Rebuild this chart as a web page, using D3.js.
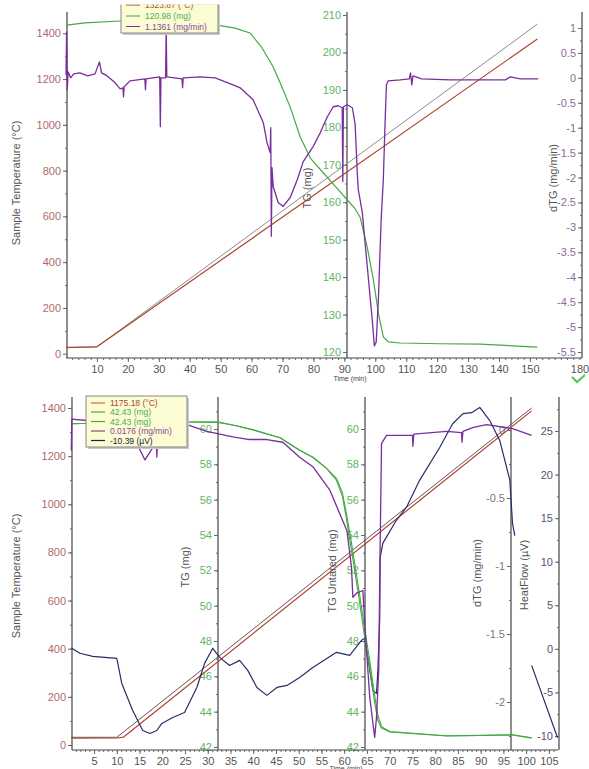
<!DOCTYPE html>
<meta charset="utf-8">
<script src="https://cdn.jsdelivr.net/npm/d3@7"></script>
<style>
  body { margin: 0; background: #fff; }
  text { font-family: "Liberation Sans", Arial, sans-serif; }
</style>
<div id="chart"></div>
<script>

// ---------- top panel data (time in min) ----------
var topTimeTicks = [10, 20, 30, 40, 50, 60, 70, 80, 90, 100, 110, 120, 130, 140, 150];
var topTempTicks = [0, 200, 400, 600, 800, 1000, 1200, 1400];
var topTGTicks = [120, 130, 140, 150, 160, 170, 180, 190, 200, 210];
var topDTGTicks = [1, 0.5, 0, -0.5, -1, -1.5, -2, -2.5, -3, -3.5, -4, -4.5, -5, -5.5];

var topTempRed = [[0, 28], [10, 30], [152.4, 1375]];
var topTempGray = [[0, 26], [10, 30], [152.4, 1440]];

var topTG = [[0.3, 207.3], [6.1, 207.9], [17.5, 208.4], [33.7, 208.4], [48.9, 207.3], [54.7, 206.5],
  [59.5, 205.2], [63.4, 201.2], [67, 196.1], [69.3, 191.8], [72.5, 185.4], [75.7, 177.5], [79, 171.8],
  [82.8, 168.2], [87, 164.3], [91, 160.6], [93.5, 158.2], [95.1, 156], [97.4, 148], [99.4, 139.2],
  [101, 130.4], [102.6, 124], [104.2, 122.7], [108.1, 122.4], [121, 122.2], [134, 122.1], [152.4, 121.3]];

var topDTG = [[0, 0.06], [0.2, 0.92], [0.4, -0.24], [0.7, 0.12], [1.5, 0.0], [2.5, 0.08], [4.5, 0.1],
  [7, 0.04], [9.4, 0.08], [10.8, 0.32], [11.5, 0.1], [13, 0.05], [15.9, -0.1], [17.5, -0.22],
  [18.4, -0.2], [18.6, -0.38], [18.8, -0.18], [20.7, -0.06], [25.5, -0.02], [25.7, -0.24], [25.9, -0.02],
  [30.3, 0.02], [30.5, -0.98], [30.7, 0.0], [32.2, 0.0], [32.4, 1.0], [32.6, 0.02], [37.5, -0.02],
  [37.7, -0.2], [37.9, 0], [43.4, 0.02], [48.2, 0.0], [54, -0.14], [56.3, -0.2], [60.5, -0.44],
  [63.8, -0.9], [65, -1.3], [66, -1.5], [66.2, -1.0], [66.4, -3.18], [66.6, -1.8], [67, -2.18],
  [68.6, -2.5], [70.2, -2.58], [72.5, -2.4], [74.8, -2.04], [76.7, -1.68], [79.9, -1.38], [82.2, -1.1],
  [84.5, -0.78], [86.4, -0.58], [88, -0.56], [89.3, -0.6], [89.5, -2.08], [89.7, -0.58], [90.9, -0.54],
  [92.6, -0.6], [93.5, -0.94], [94.2, -1.94], [94.5, -2.24], [95.8, -2.7], [97.4, -3.78], [99, -4.84],
  [99.7, -5.38], [100.3, -5.3], [101, -4.44], [101.9, -2.84], [102.6, -2.04], [103.2, -0.84],
  [103.6, -0.14], [104.2, -0.06], [108.1, -0.04], [111, -0.02], [111.4, 0.1], [111.8, -0.14],
  [112.2, 0.04], [115, -0.02], [124.3, -0.04], [134, -0.04], [142.1, -0.04], [143.7, 0.02],
  [146.9, -0.02], [152.7, -0.02]];

var topLegend = ["1323.87  (°C)", "120.98  (mg)", "1.1361  (mg/min)"];

// ---------- bottom panel data ----------
var botTimeTicks = [5, 10, 15, 20, 25, 30, 35, 40, 45, 50, 55, 60, 65, 70, 75, 80, 85, 90, 95, 100, 105];
var botTempTicks = [0, 200, 400, 600, 800, 1000, 1200, 1400];
var botTGTicks = [42, 44, 46, 48, 50, 52, 54, 56, 58, 60];
var botDTGTicks = [0, -0.5, -1, -1.5, -2];
var botHFTicks = [-10, -5, 0, 5, 10, 15, 20, 25];

var botTempRed = [[0, 28], [10, 29], [11.5, 33], [101.2, 1388]];
var botTempDark = [[0, 32], [10, 32], [101.2, 1400]];

var botTG = [[0, 60.3], [15, 60.38], [25, 60.4], [32.2, 60.39], [36, 60.2], [40, 59.95], [45.9, 59.5],
  [50.2, 58.8], [53.1, 58.4], [56, 57.8], [58.3, 57.1], [59.6, 56.2], [60.5, 54.9], [61.5, 53.3],
  [62.3, 52.0], [63.4, 50.15], [64.5, 48.2], [65.6, 46.5], [66.7, 44.5], [67.4, 43.5], [68.2, 43.08],
  [70, 42.85], [82.5, 42.62], [90, 42.65], [97, 42.68], [101.2, 42.5]];
var botTGUntared = [[0, 60.3], [15, 60.38], [25, 60.4], [32.2, 60.39], [36, 60.2], [40, 59.95], [45.9, 59.5],
  [50.2, 58.8], [53.1, 58.4], [56, 57.8], [58.3, 57.2], [59.6, 56.4], [60.5, 55.2], [61.5, 53.7],
  [62.3, 52.4], [63.4, 50.6], [64.5, 48.7], [65.6, 46.9], [66.7, 44.9], [67.4, 43.8], [68.2, 43.15],
  [70, 42.88], [82.5, 42.64], [90, 42.66], [97, 42.69], [101.2, 42.52]];

var botDTG = [[0, -0.15], [0.1, 0.08], [3.4, 0.07], [6.3, 0.06], [10, 0.04], [12.9, -0.01], [14.4, -0.1],
  [16.2, -0.22], [17.9, -0.13], [18.7, -0.08], [18.8, -0.2], [19, -0.04], [21, 0.0], [25.4, 0.04],
  [29.8, -0.01], [35.5, -0.05], [39.2, -0.07], [43, -0.07], [46.5, -0.09], [50.2, -0.2], [53.1, -0.27],
  [56.8, -0.44], [60.6, -0.74], [61.6, -1.01], [61.9, -1.23], [62.7, -1.2], [64.1, -1.18], [64.7, -1.52],
  [65.6, -1.96], [66.7, -2.26], [67.1, -2.11], [67.6, -1.76], [67.8, -1.1], [68.2, -0.1], [69.3, -0.04],
  [75, -0.04], [75.1, -0.12], [75.3, -0.03], [82.5, -0.01], [85.8, -0.02], [85.9, -0.09], [86.1, -0.01],
  [88.4, 0.02], [91.3, 0.04], [97, 0.01], [101.2, -0.04]];

var botHeatFlow = [[0, 0.1], [1.9, -0.5], [4.7, -0.86], [10, -1.09], [11.1, -3.97], [13.5, -7.07],
  [15.7, -9.37], [17.3, -9.71], [18.8, -9.37], [19.9, -8.56], [22.3, -7.87], [24.9, -7.3], [27.6, -4.43],
  [29.3, -1.67], [31.1, 0.06], [32.6, -0.98], [34.8, -1.9], [37, -1.32], [38.8, -2.47], [40.8, -4.43],
  [43, -5.34], [45.2, -4.43], [47.4, -4.2], [50.2, -3.28], [53.1, -2.13], [58.3, -0.4], [61.2, -0.75],
  [63.8, 0.98], [64.5, 1.21], [65.2, -0.98], [66.3, -4.77], [67.1, -5.11], [67.4, -2.47], [67.8, 3.28],
  [67.9, 10.5], [68.5, 12.13], [71.5, 14.78], [73.7, 16.26], [76.6, 19.37], [81, 23.1], [83.8, 25.8],
  [86.1, 27], [88, 27.1], [89.8, 27.7], [92, 26.2], [94.2, 23.9], [96.4, 19.4], [97, 14.4], [97.5, 13],
  [99, null], [101.2, -1.9], [106.9, -10.2]];

var botLegend = ["1175.18  (°C)", "42.43  (mg)", "42.43  (mg)", "0.0176  (mg/min)", "-10.39  (µV)"];

// ---------- colours ----------
var cTempTxt = "#b06a6a", cGreenTxt = "#5fb65f", cPurpleTxt = "#8c6b94", cHFTxt = "#55556e";
var cRed = "#b0432f", cGray = "#8c8c8c", cGreen = "#45a845", cPurple = "#7a2d9c", cNavy = "#2b2b6b";

var svg = d3.select("#chart").append("svg")
  .attr("width", 589).attr("height", 769);

function vAxis(x, y1, y2, scale, major, minor, color) {
  svg.append("line").attr("x1", x).attr("x2", x).attr("y1", y1).attr("y2", y2)
    .attr("stroke", "#444").attr("stroke-width", 1.2);
  var gm = svg.append("g").attr("transform", "translate(" + x + ",0)")
    .call(d3.axisLeft(scale).tickValues(minor).tickSize(2).tickFormat(""));
  var g = svg.append("g").attr("transform", "translate(" + x + ",0)")
    .call(d3.axisLeft(scale).tickValues(major).tickSize(4).tickPadding(2).tickFormat(String));
  [gm, g].forEach(function(a) {
    a.select(".domain").remove();
    a.selectAll("line").attr("stroke", "#666");
  });
  g.attr("font-family", null).attr("font-size", null);
  g.selectAll("text").attr("fill", color).style("font-size", "11px");
}

function hAxis(y, x1, x2, scale, major, minor) {
  svg.append("line").attr("x1", x1).attr("x2", x2).attr("y1", y).attr("y2", y)
    .attr("stroke", "#444").attr("stroke-width", 1.2);
  var gm = svg.append("g").attr("transform", "translate(0," + y + ")")
    .call(d3.axisBottom(scale).tickValues(minor).tickSize(2).tickFormat(""));
  var g = svg.append("g").attr("transform", "translate(0," + y + ")")
    .call(d3.axisBottom(scale).tickValues(major).tickSize(4).tickPadding(3).tickFormat(String));
  [gm, g].forEach(function(a) {
    a.select(".domain").remove();
    a.selectAll("line").attr("stroke", "#666");
  });
  g.attr("font-family", null).attr("font-size", null);
  g.selectAll("text").attr("fill", "#555").style("font-size", "11px");
}

function title(txt, x, y) {
  svg.append("text")
    .attr("transform", "translate(" + x + "," + y + ") rotate(-90)")
    .attr("text-anchor", "middle").attr("fill", "#555")
    .style("font-size", "11px").text(txt);
}

function plot(data, xs, ys, color, w) {
  svg.append("path").datum(data)
    .attr("fill", "none").attr("stroke", color).attr("stroke-width", w)
    .attr("stroke-linejoin", "round")
    .attr("d", d3.line().defined(function(d) { return d[1] !== null; })
      .x(function(d) { return xs(d[0]); })
      .y(function(d) { return ys(d[1]); }));
}

function legend(x, y, w, h, labels, colors, textColors, rowY) {
  var g = svg.append("g");
  g.append("rect").attr("x", x + 2).attr("y", y + 2).attr("width", w).attr("height", h).attr("fill", "#c8c8c8");
  g.append("rect").attr("x", x).attr("y", y).attr("width", w).attr("height", h)
    .attr("fill", "#fbfbd4").attr("stroke", "#888");
  labels.forEach(function(l, i) {
    g.append("line").attr("x1", x + 5).attr("x2", x + 19).attr("y1", rowY[i] - 3).attr("y2", rowY[i] - 3)
      .attr("stroke", colors[i]).attr("stroke-width", 1.2);
    g.append("text").attr("x", x + 24).attr("y", rowY[i]).attr("fill", textColors[i])
      .style("font-size", "8.5px").text(l);
  });
  return g;
}

// ================= TOP PANEL =================
var xT = d3.scaleLinear().domain([0, 167]).range([66, 582.5]);
var tT = d3.scaleLinear().domain([0, 1400]).range([353.7, 33.3]);
var gT = d3.scaleLinear().domain([120, 210]).range([352, 15]);
var dT = d3.scaleLinear().domain([-5.5, 1]).range([352, 28]);

title("Sample Temperature (°C)", 20, 183);
title("TG (mg)", 311, 188);
title("dTG (mg/min)", 557, 178);

vAxis(67, 12, 358, tT, topTempTicks, d3.range(100, 1500, 100), cTempTxt);
vAxis(347, 12, 358, gT, topTGTicks, d3.range(120, 211, 5), cGreenTxt);
vAxis(582, 12, 358, dT, topDTGTicks, d3.range(-5.5, 1.01, 0.25), cPurpleTxt);
hAxis(358, 66, 582, xT, topTimeTicks, d3.range(2, 167, 2));
svg.append("text").attr("x", 580).attr("y", 373).attr("text-anchor", "middle")
  .attr("fill", "#555").style("font-size", "11px").text("180");
svg.append("text").attr("x", 350).attr("y", 381).attr("text-anchor", "middle")
  .attr("fill", "#444").style("font-size", "7px").text("Time (min)");
svg.append("path").attr("d", "M572,377 L577,382 L585,375")
  .attr("fill", "none").attr("stroke", "#5cc35c").attr("stroke-width", 2.2);

plot(topTempGray, xT, tT, cGray, 1);
plot(topTempRed, xT, tT, cRed, 1.2);
plot(topTG, xT, gT, cGreen, 1.2);
plot(topDTG, xT, dT, cPurple, 1.3);

svg.append("clipPath").attr("id", "topclip").append("rect")
  .attr("x", 0).attr("y", 4.5).attr("width", 589).attr("height", 40);
legend(121, -2, 97, 35, topLegend, [cRed, cGreen, cPurple], ["#b0502a", "#4caf50", "#8a4a9a"], [8, 19, 29.5])
  .attr("clip-path", "url(#topclip)");

// ================= BOTTOM PANEL =================
var xB = d3.scaleLinear().domain([0, 107]).range([71.3, 558]);
var tB = d3.scaleLinear().domain([0, 1400]).range([745, 408]);
var gB = d3.scaleLinear().domain([42, 60]).range([747, 429]);
var dB = d3.scaleLinear().domain([-2, 0]).range([702, 430]);
var hB = d3.scaleLinear().domain([-10, 25]).range([736, 431]);

title("Sample Temperature (°C)", 20, 576);
title("TG (mg)", 189, 567);
title("TG Untared (mg)", 336, 571);
title("dTG (mg/min)", 481, 573);
title("HeatFlow (µV)", 528, 575);

vAxis(72, 397, 750, tB, botTempTicks, d3.range(100, 1500, 100), cTempTxt);
vAxis(218, 397, 750, gB, botTGTicks, d3.range(42, 61.1, 1), cGreenTxt);
vAxis(365, 397, 750, gB, botTGTicks, d3.range(42, 61.1, 1), cGreenTxt);
vAxis(511, 397, 750, dB, botDTGTicks, d3.range(-2.25, 0.01, 0.25), cPurpleTxt);
vAxis(559, 397, 750, hB, botHFTicks, d3.range(-10, 28, 2.5), cHFTxt);
hAxis(750, 72, 558, xB, botTimeTicks, d3.range(1, 107, 1));
svg.append("text").attr("x", 346).attr("y", 771).attr("text-anchor", "middle")
  .attr("fill", "#444").style("font-size", "7px").text("Time (min)");

plot(botTempDark, xB, tB, "#5a4040", 0.9);
plot(botTempRed, xB, tB, cRed, 1.2);
plot(botHeatFlow, xB, hB, cNavy, 1.2);
plot(botTGUntared, xB, gB, cGreen, 1.1);
plot(botTG, xB, gB, cGreen, 1.1);
plot(botDTG, xB, dB, cPurple, 1.3);

legend(86, 396, 101, 51, botLegend, ["#c8773a", cGreen, cGreen, "#8a4a9a", "#222244"],
  ["#a84a2c", "#4caf50", "#4caf50", "#8a4a9a", "#222244"], [406, 415, 424.5, 434, 443.5]);

</script>
